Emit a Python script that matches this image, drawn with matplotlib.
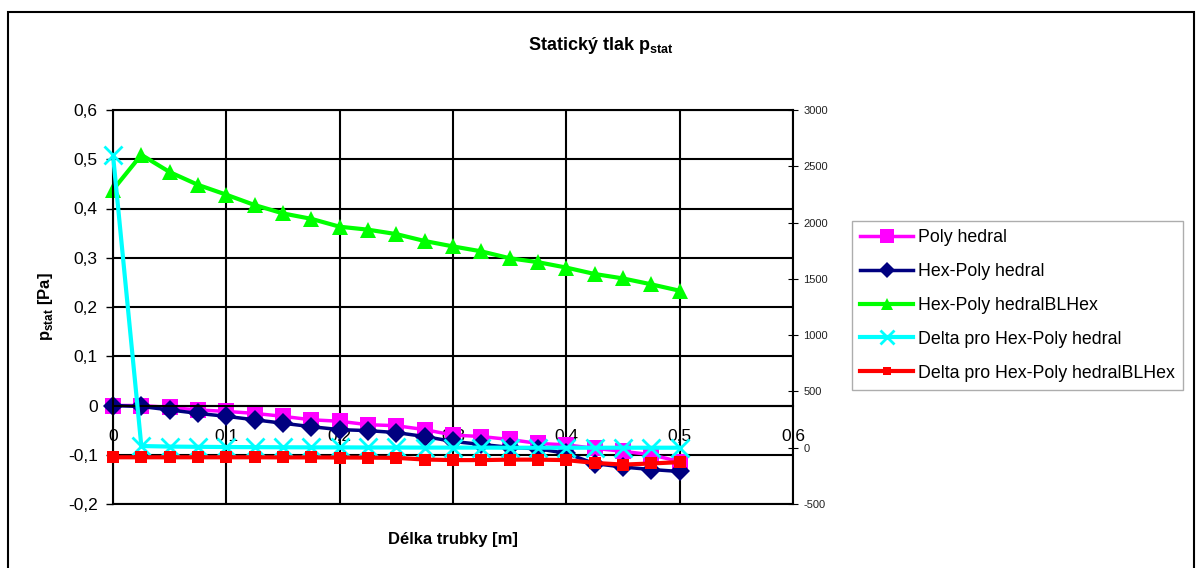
import matplotlib
matplotlib.use("Agg")
import matplotlib.pyplot as plt
from matplotlib.patches import Rectangle
from matplotlib.ticker import FuncFormatter

plt.rcParams["font.family"] = ["Liberation Sans", "DejaVu Sans"]
plt.rcParams["mathtext.fontset"] = "custom"
plt.rcParams["mathtext.rm"] = "Liberation Sans"
plt.rcParams["mathtext.bf"] = "Liberation Sans:bold"
plt.rcParams["axes.unicode_minus"] = False

# Délka trubky [m]
x = [0.0, 0.025, 0.05, 0.075, 0.1, 0.125, 0.15, 0.175, 0.2, 0.225, 0.25,
     0.275, 0.3, 0.325, 0.35, 0.375, 0.4, 0.425, 0.45, 0.475, 0.5]

# left axis [Pa]
polyhedral = [0.0, 0.0, -0.004, -0.009, -0.012, -0.016, -0.022, -0.029, -0.032, -0.039, -0.041,
              -0.049, -0.060, -0.063, -0.069, -0.077, -0.080, -0.087, -0.093, -0.100, -0.114]
hex_poly = [0.0, -0.002, -0.009, -0.016, -0.022, -0.029, -0.036, -0.043, -0.049, -0.051, -0.055,
            -0.063, -0.073, -0.079, -0.085, -0.088, -0.097, -0.118, -0.125, -0.130, -0.134]
hex_poly_bl = [0.438, 0.509, 0.474, 0.448, 0.428, 0.407, 0.390, 0.379, 0.363, 0.357, 0.348,
               0.334, 0.323, 0.313, 0.299, 0.291, 0.280, 0.267, 0.258, 0.246, 0.233]

# right axis (delta)
delta_hex_poly = [2600, 15, 10, 8, 6, 5, 4, 3, 3, 2, 2,
                  1, 1, 1, 0, 0, 0, 0, 0, 0, 0]
delta_hex_poly_bl = [-85, -85, -85, -85, -85, -85, -86, -86, -87, -88, -90,
                     -105, -110, -110, -106, -106, -110, -135, -150, -140, -128]

series_left = [
    ("Poly hedral", polyhedral, "#FF00FF", "s", 12, 2.5),
    ("Hex-Poly hedral", hex_poly, "#000080", "D", 10, 2.5),
    ("Hex-Poly hedralBLHex", hex_poly_bl, "#00FF00", "^", 11, 3),
]
series_right = [
    ("Delta pro Hex-Poly hedral", delta_hex_poly, "#00FFFF", "x", 13, 3),
    ("Delta pro Hex-Poly hedralBLHex", delta_hex_poly_bl, "#FF0000", "s", 8, 3),
]

comma = FuncFormatter(lambda v, p: f"{v:.1f}".replace(".", ",") if abs(v) > 1e-9 else "0")

fig = plt.figure(figsize=(11.96, 5.68), dpi=100)
ax = fig.add_axes([113 / 1196, 64 / 568, 680 / 1196, 394 / 568])
ax2 = ax.twinx()

handles = []
for label, ys, col, mk, ms, lw in series_left:
    h, = ax.plot(x, ys, color=col, marker=mk, markersize=ms, lw=lw,
                 markeredgewidth=0, label=label, clip_on=False)
    handles.append(h)
for label, ys, col, mk, ms, lw in series_right:
    h, = ax2.plot(x, ys, color=col, marker=mk, markersize=ms, lw=lw,
                  markeredgewidth=2 if mk == "x" else 0, label=label, clip_on=False)
    handles.append(h)

ax.set_xlim(0, 0.6)
ax.set_ylim(-0.2, 0.6)
ax.set_xticks([0, 0.1, 0.2, 0.3, 0.4, 0.5, 0.6])
ax.set_yticks([-0.2, -0.1, 0, 0.1, 0.2, 0.3, 0.4, 0.5, 0.6])
ax.xaxis.set_major_formatter(comma)
ax.yaxis.set_major_formatter(comma)
ax.grid(True, color="black", lw=1.5)
ax.set_axisbelow(True)
ax.spines["bottom"].set_position(("data", 0))
for s in ax.spines.values():
    s.set_linewidth(1.5)
    s.set_color("black")
ax.axhline(-0.2, color="black", lw=1.5, clip_on=False)
ax.tick_params(axis="x", length=0, pad=17, labelsize=12.5)
ax.tick_params(axis="y", length=5, width=1, pad=6, labelsize=12.5)

ax2.set_ylim(-500, 3000)
ax2.set_yticks(range(-500, 3001, 500))
ax2.tick_params(axis="y", direction="inout", length=7, width=0.8, pad=4,
                labelsize=8, labelcolor="#222222")
for s in ax2.spines.values():
    s.set_visible(False)
ax2.patch.set_visible(False)

ax.set_xlabel("Délka trubky [m]", fontsize=12, fontweight="bold", labelpad=0)
ax.xaxis.set_label_coords(0.5, -0.07)
ax.set_ylabel(r"p$_\mathbf{stat}$ [Pa]", fontsize=12, fontweight="bold")
ax.yaxis.set_label_coords(-0.085, 0.5)
fig.text(0.502, 1 - 45 / 568, r"Statický tlak p$_\mathbf{stat}$", fontsize=13,
         fontweight="bold", ha="center", va="center")

leg = fig.legend(handles=handles, loc="upper left", bbox_to_anchor=(852 / 1196, 1 - 221 / 568),
                 fontsize=12.8, frameon=True, fancybox=False, edgecolor="#999999",
                 handlelength=3.0, handletextpad=0.25, labelspacing=0.95,
                 borderpad=0.45, borderaxespad=0, markerscale=0.8)
leg.get_frame().set_linewidth(1)

fig.add_artist(Rectangle((8 / 1196, -0.05), (1194 - 8) / 1196, 1.05 - 12 / 568,
                         transform=fig.transFigure, fill=False, edgecolor="black", lw=1.5))

fig.savefig("out.png", dpi=100)
